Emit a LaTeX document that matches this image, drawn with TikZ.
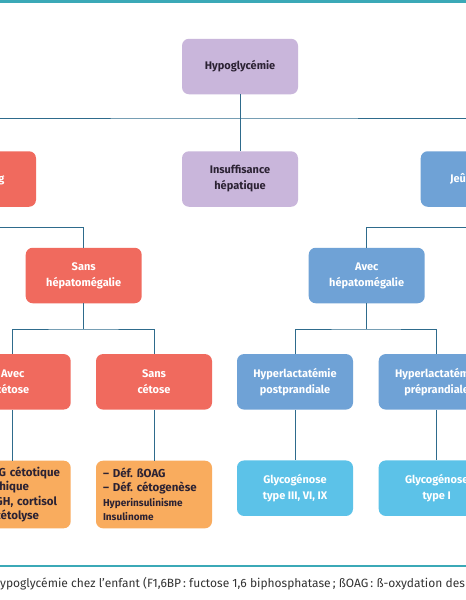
\documentclass[tikz,border=0pt]{standalone}
\usepackage{fontspec}
\setmainfont{Fira Sans}
\definecolor{cpurple}{HTML}{C9B6DB}
\definecolor{cred}{HTML}{F06A5E}
\definecolor{cblue}{HTML}{6FA2D6}
\definecolor{ccyan}{HTML}{5CC2E8}
\definecolor{corange}{HTML}{F9AC5E}
\definecolor{cline}{HTML}{2E6B8C}
\definecolor{cteal}{HTML}{3BA9B7}
\definecolor{ctext}{HTML}{2B2233}
\definecolor{ccap}{HTML}{333333}
\frenchspacing
\hyphenpenalty=10000
\exhyphenpenalty=10000
\begin{document}
\begin{tikzpicture}[x=1pt,y=-1pt,
  box/.style={rounded corners=7pt, minimum width=116pt, minimum height=55.5pt, inner sep=0pt,
    align=center, font=\fontsize{11}{16}\selectfont\bfseries, text=white},
  pbox/.style={box, fill=cpurple, text=ctext},
  rbox/.style={box, fill=cred},
  bbox/.style={box, fill=cblue},
  cbox/.style={box, fill=ccyan},
  obox/.style={box, fill=corange, text=ctext, minimum height=67.6pt, text width=102pt,
    align=left, inner xsep=7pt, font=\fontsize{11.5}{14.5}\selectfont\bfseries},
  conn/.style={draw=cline, line width=0.8pt},
  rule/.style={fill=cteal}]
\useasboundingbox (0,0) rectangle (466,600);
\clip (0,0) rectangle (466,600);
\fill[white] (0,0) rectangle (466,600);
\fill[rule] (0,0) rectangle (466,3);
\fill[rule] (0,565) rectangle (466,567);

\node[pbox] (hypo) at (240,66.5) {Hypoglycémie};
\node[rbox] (jlong) at (-22,179) {Jeûne long};
\node[pbox] (insuf) at (240,179) {Insuffisance\\hépatique};
\node[bbox] (jcourt) at (478.7,179) {Jeûne court};
\node[rbox] (sanshep) at (83.7,275.5) {Sans\\hépatomégalie};
\node[bbox] (avechep) at (366.7,275.5) {Avec\\hépatomégalie};
\node[rbox] (aveccet) at (12.7,381.8) {Avec\\cétose};
\node[rbox] (sanscet) at (154,381.8) {Sans\\cétose};
\node[bbox] (hpost) at (295,381.8) {Hyperlactatémie\\postprandiale};
\node[bbox] (hpre) at (436.7,381.8) {Hyperlactatémie\\préprandiale};
\node[obox] (o1) at (12.7,494.5) {– HypoG cétotique\\idiopathique\\– Déf. GH, cortisol\\– Déf. cétolyse};
\node[obox] (o2) at (154,494.5) {– Déf. ßOAG\\– Déf. cétogenèse\\{\fontsize{10}{14.5}\selectfont Hyperinsulinisme}\\{\fontsize{10}{14.5}\selectfont Insulinome}};
\node[cbox] (g1) at (295,488.2) {Glycogénose\\type III, VI, IX};
\node[cbox] (g2) at (436.7,488.2) {Glycogénose\\type I};

\coordinate (b1) at (240,118);
\coordinate (b2) at (-22,227);
\coordinate (b3) at (478.7,227);
\coordinate (b4) at (83.7,329);
\coordinate (b5) at (366.7,329);

\draw[conn] (hypo.south) -- (insuf.north);
\draw[conn] (jlong.north) |- (b1) -| (jcourt.north);
\draw[conn] (jlong.south) -- (b2) -| (sanshep.north);
\draw[conn] (jcourt.south) -- (b3) -| (avechep.north);
\draw[conn] (sanshep.south) -- (b4);
\draw[conn] (aveccet.north) |- (b4) -| (sanscet.north);
\draw[conn] (avechep.south) -- (b5);
\draw[conn] (hpost.north) |- (b5) -| (hpre.north);
\draw[conn] (aveccet.south) -- (o1.north);
\draw[conn] (sanscet.south) -- (o2.north);
\draw[conn] (hpost.south) -- (g1.north);
\draw[conn] (hpre.south) -- (g2.north);

\node[anchor=base west, inner sep=0pt, text=ccap, font=\fontsize{12}{14}\selectfont] (cap) at (0,587)
  {\llap{H}ypoglycémie chez l’enfant (F1,6BP\,: fuctose 1,6 biphosphatase\,; ßOAG\,: ß-oxydation des acides gras)};
\end{tikzpicture}
\end{document}
